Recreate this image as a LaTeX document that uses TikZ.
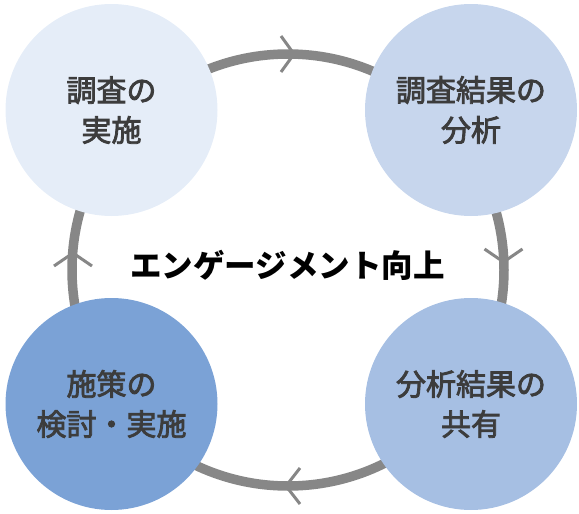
\documentclass[tikz,border=0pt]{standalone}
\usepackage{fontspec}
\newfontfamily\jp{Noto Sans CJK JP}
\newcommand{\heavy}[1]{\special{pdf:literal direct 2 Tr 0.8 w}#1\special{pdf:literal direct 0 Tr}}
\definecolor{ringgray}{HTML}{878787}
\definecolor{cA}{HTML}{E5EDF8}
\definecolor{cB}{HTML}{C7D6ED}
\definecolor{cC}{HTML}{A6BFE3}
\definecolor{cD}{HTML}{7BA2D6}
\definecolor{txt}{HTML}{3C3C3C}
\tikzset{
  stage/.style={circle, minimum size=212pt, inner sep=0pt, draw=none, text=txt,
    font=\jp\fontsize{30}{40}\selectfont, align=center},
  ring/.style={draw=ringgray, line width=9.5pt},
  chev/.style={draw=ringgray, line width=3pt}
}
\begin{document}
\begin{tikzpicture}[x=1pt,y=-1pt]
\useasboundingbox (0,0) rectangle (579,514);
\coordinate (rc) at (288,270);
\draw[ring] (rc) circle[radius=216];
% chevrons
\coordinate (ct) at (294,54);
\coordinate (cr) at (503.5,262);
\coordinate (cb) at (286,486);
\coordinate (cl) at (73,253);
\draw[chev] ([shift={(-13,-18)}]ct) -- (ct) -- ([shift={(-13,18)}]ct);
\draw[chev] ([shift={(-19,-13)}]cr) -- (cr) -- ([shift={(19,-13)}]cr);
\draw[chev] ([shift={(14,-18)}]cb) -- (cb) -- ([shift={(14,18)}]cb);
\draw[chev] ([shift={(-19,13)}]cl) -- (cl) -- ([shift={(19,13)}]cl);
% stages
\node[stage, fill=cA] (s1) at (111.5,110) {\heavy{調査の}\\\heavy{実施}};
\node[stage, fill=cB] (s2) at (471,110) {\heavy{調査結果の}\\\heavy{分析}};
\node[stage, fill=cC] (s3) at (471,404) {\heavy{分析結果の}\\\heavy{共有}};
\node[stage, fill=cD] (s4) at (111.5,404) {\heavy{施策の}\\\heavy{検討・実施}};
\node[font=\jp\bfseries\fontsize{31.5}{36}\selectfont, text=black] (ctr) at (287.5,265) {エンゲージメント向上};
\end{tikzpicture}
\end{document}
